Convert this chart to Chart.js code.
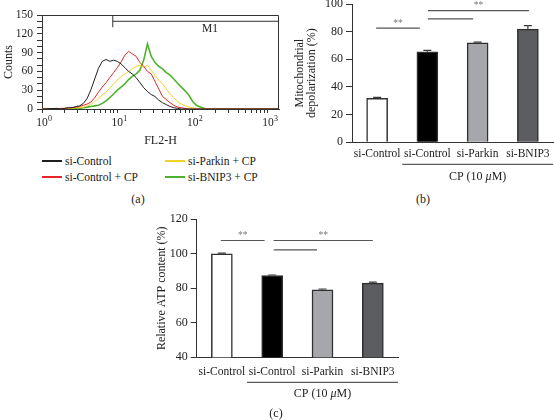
<!DOCTYPE html>
<html>
<head>
<meta charset="utf-8">
<script src="https://cdn.jsdelivr.net/npm/chart.js@4.4.0/dist/chart.umd.min.js"></script>
<style>
  html, body { margin: 0; padding: 0; background: #fff; }
  body { width: 554px; height: 420px; position: relative; overflow: hidden; font-family: "Liberation Serif", serif; color: #222; }
  .box { position: absolute; }
  .tag { position: absolute; font-size: 12px; transform: translate(-50%, -50%); white-space: nowrap; }
  .legend-item { position: absolute; font-size: 11.5px; white-space: nowrap; transform: translateY(-50%); display: flex; align-items: center; }
  .swatch { display: inline-block; width: 20px; height: 2px; margin-right: 3px; }
</style>
</head>
<body>
<div class="box" style="left:0;top:0;width:290px;height:150px"><canvas id="histChart"></canvas></div>
<div class="box" style="left:290px;top:0;width:264px;height:190px"><canvas id="depolChart"></canvas></div>
<div class="box" style="left:140px;top:210px;width:270px;height:200px"><canvas id="atpChart"></canvas></div>
<div id="histLegend"></div>
<div class="tag" style="left:138px;top:199px">(a)</div>
<div class="tag" style="left:423px;top:199px">(b)</div>
<div class="tag" style="left:276px;top:413px">(c)</div>

<script>
// ---- panel (a): FL2-H histogram ----
const flChannels = [1, 1.58, 1.78, 2.0, 2.24, 2.51, 2.82, 3.16, 3.55, 3.98, 4.47,
  5.01, 5.62, 6.31, 7.08, 7.94, 8.91, 10, 11.2, 12.6, 14.1,
  15.8, 17.8, 20, 22.4, 25.1, 28.2, 31.6, 35.5, 39.8, 44.7,
  50.1, 56.2, 63.1, 70.8, 79.4, 89.1, 100, 112, 126, 141,
  158, 178, 200, 1400];
const countsControl = [0, 1, 0, 1, 2, 2, 4, 5, 9, 17, 31,
  48, 65, 76, 79, 76, 78, 76, 72, 66, 60,
  56, 50, 42, 34, 28, 23, 20, 14, 10, 7,
  4, 2, 1, 0, 0, 0, 0, 0, 0, 0,
  0, 0, 0, 0];
const countsControlCP = [0, 0, 1, 1, 2, 2, 3, 4, 6, 8, 11,
  18, 27, 35, 42, 50, 58, 66, 75, 86, 92,
  88, 84, 74, 68, 60, 56, 44, 32, 20, 15,
  10, 6, 3, 2, 1, 0, 0, 0, 0, 0,
  0, 0, 0, 0];
const countsParkinCP = [0, 0, 0, 1, 1, 1, 2, 2, 3, 5, 7,
  12, 17, 22, 27, 33, 40, 46, 52, 56, 60,
  64, 68, 70, 66, 70, 62, 54, 46, 40, 32,
  24, 18, 12, 8, 5, 3, 2, 1, 0, 0,
  0, 0, 0, 0];
const countsBnip3CP = [0, 0, 0, 0, 0, 1, 1, 1, 2, 3, 4,
  5, 6, 9, 13, 18, 24, 30, 35, 40, 47,
  52, 56, 62, 78, 104, 84, 74, 68, 64, 58,
  54, 48, 41, 35, 29, 22, 12, 6, 3, 1,
  0, 0, 0, 0];
const seriesNames = ['si-Control', 'si-Control + CP', 'si-Parkin + CP', 'si-BNIP3 + CP'];
const seriesColors = ['#1e1e1e', '#e8262a', '#f2d22a', '#4fb22c'];
const countLabels = [0, 30, 60, 90, 120, 150];
const flTicks = [1, 2, 3, 4, 5, 6, 7, 8, 9, 10, 20, 30, 40, 50, 60, 70, 80, 90,
  100, 200, 300, 400, 500, 600, 700, 800, 900, 1000];
const flDecades = [1, 10, 100, 1000];
const m1Gate = [8.7, 1400];
const m1Level = 140;
const m1Label = [170, 128];

// ---- panels (b) and (c) ----
const groupNames = ['si-Control', 'si-Control', 'si-Parkin', 'si-BNIP3'];
const depolValues = [31.8, 65.5, 72, 81.8];
const depolErrors = [0.7, 1, 0.5, 2.5];
const atpValues = [100, 87.4, 79.1, 83];
const atpErrors = [0.4, 0.3, 0.5, 0.6];
const barFills = ['#ffffff', '#000000', '#a5a7aa', '#5c5d61'];
// [from index, to index, level, text]
const depolSig = [[-0.02, 0.85, 82.6, '**'], [1.01, 3.02, 95.2, '**'], [1.01, 1.91, 89.2, '']];
const atpSig = [[-0.02, 0.85, 107.7, '**'], [1.03, 3.0, 107.7, '**'], [1.03, 1.89, 102.3, '']];

const FONT = '"Liberation Serif", "Times New Roman", serif';
const INK = '#222';
const AXIS = '#333';

/**
 * Frame, M1 gate and 10^n labels of the histogram
 */
const histDecor = {
    id: 'histDecor',
    afterDraw(chart) {
        const {ctx, chartArea: a, scales: {x, y}} = chart;
        ctx.save();
        ctx.strokeStyle = AXIS;
        ctx.lineWidth = 1;
        ctx.beginPath();
        ctx.moveTo(a.left, a.top + 0.5);
        ctx.lineTo(a.right - 0.5, a.top + 0.5);
        ctx.lineTo(a.right - 0.5, a.bottom);
        ctx.stroke();

        const gx0 = x.getPixelForValue(m1Gate[0]);
        const gx1 = x.getPixelForValue(m1Gate[1]);
        const gy = y.getPixelForValue(m1Level);
        ctx.beginPath();
        ctx.moveTo(gx0, a.top);
        ctx.lineTo(gx0, gy + 6);
        ctx.moveTo(gx0, gy);
        ctx.lineTo(gx1, gy);
        ctx.stroke();

        ctx.fillStyle = INK;
        ctx.textBaseline = 'middle';
        ctx.textAlign = 'center';
        ctx.font = '11.5px ' + FONT;
        ctx.fillText('M1', x.getPixelForValue(m1Label[0]), y.getPixelForValue(m1Label[1]));

        flDecades.forEach(v => {
            const px = x.getPixelForValue(v);
            ctx.font = '11.5px ' + FONT;
            ctx.textAlign = 'center';
            ctx.fillText('10', px, a.bottom + 14);
            ctx.font = '8px ' + FONT;
            ctx.textAlign = 'left';
            ctx.fillText(String(Math.round(Math.log10(v))), px + 6, a.bottom + 10);
        });
        ctx.restore();
    }
};

/**
 * Error bars, significance lines and the CP group label of a bar chart
 */
const barDecor = {
    id: 'barDecor',
    afterDatasetsDraw(chart, args, opts) {
        const {ctx, chartArea: a, scales: {x, y}} = chart;
        const meta = chart.getDatasetMeta(0);
        const values = chart.data.datasets[0].data;
        ctx.save();

        // error bars
        ctx.strokeStyle = '#3a3a3a';
        ctx.lineWidth = 1.2;
        opts.errors.forEach((err, i) => {
            const px = meta.data[i].x;
            const base = y.getPixelForValue(values[i]);
            const top = y.getPixelForValue(values[i] + err);
            ctx.beginPath();
            ctx.moveTo(px, base);
            ctx.lineTo(px, top);
            ctx.moveTo(px - 4, top);
            ctx.lineTo(px + 4, top);
            ctx.stroke();
        });

        // significance lines
        ctx.strokeStyle = '#555';
        ctx.lineWidth = 1.2;
        ctx.fillStyle = '#777';
        ctx.font = '9.5px ' + FONT;
        ctx.textAlign = 'center';
        ctx.textBaseline = 'middle';
        opts.sig.forEach(([from, to, level, text]) => {
            const x0 = x.getPixelForValue(from);
            const x1 = x.getPixelForValue(to);
            const py = y.getPixelForValue(level);
            ctx.beginPath();
            ctx.moveTo(x0, py);
            ctx.lineTo(x1, py);
            ctx.stroke();
            if (text) ctx.fillText(text, (x0 + x1) / 2, py - 5);
        });

        // group line and "CP (10 μM)"
        const gx0 = x.getPixelForValue(0.5);
        const gx1 = x.getPixelForValue(3.5);
        const ly = a.bottom + opts.groupLine;
        ctx.strokeStyle = AXIS;
        ctx.lineWidth = 1;
        ctx.beginPath();
        ctx.moveTo(gx0, ly);
        ctx.lineTo(gx1, ly);
        ctx.stroke();

        const parts = [['CP (10 ', ''], ['\u03bc', 'italic '], ['M)', '']];
        ctx.fillStyle = INK;
        ctx.textAlign = 'left';
        let total = 0;
        const widths = parts.map(([t, st]) => {
            ctx.font = st + '12px ' + FONT;
            const w = ctx.measureText(t).width;
            total += w;
            return w;
        });
        let tx = x.getPixelForValue(2) - total / 2;
        const ty = a.bottom + opts.groupText;
        parts.forEach(([t, st], i) => {
            ctx.font = st + '12px ' + FONT;
            ctx.fillText(t, tx, ty);
            tx += widths[i];
        });
        ctx.restore();
    }
};

function tickFont(size) {
    return {family: FONT, size: size};
}

new Chart(document.getElementById('histChart'), {
    type: 'line',
    data: {
        datasets: [countsControl, countsControlCP, countsParkinCP, countsBnip3CP].map((counts, i) => ({
            label: seriesNames[i],
            data: flChannels.map((c, k) => ({x: c, y: counts[k]})),
            borderColor: seriesColors[i],
            borderWidth: i === 3 ? 1.6 : 1,
            pointRadius: 0,
            tension: 0
        }))
    },
    options: {
        responsive: true,
        maintainAspectRatio: false,
        animation: false,
        layout: {padding: {left: 0, top: 15, right: 11, bottom: 0}},
        plugins: {legend: {display: false}, tooltip: {enabled: false}},
        scales: {
            x: {
                type: 'logarithmic',
                min: 1,
                max: 1400,
                afterBuildTicks(axis) {
                    axis.ticks = flTicks.map(v => ({value: v}));
                },
                afterFit(s) {
                    s.height = 41;
                    s.paddingLeft = 0;
                    s.paddingRight = 0;
                },
                ticks: {display: false},
                grid: {drawOnChartArea: false, tickLength: 4, color: AXIS},
                border: {color: AXIS},
                title: {display: true, text: 'FL2-H', color: INK, font: {family: FONT, size: 12, lineHeight: '12px'}, padding: {top: 0, bottom: 3}}
            },
            y: {
                min: 0,
                max: 150,
                afterFit(s) {
                    s.width = 42;
                    s.paddingTop = 0;
                    s.paddingBottom = 0;
                },
                ticks: {
                    stepSize: 10,
                    autoSkip: false,
                    padding: 4,
                    color: INK,
                    font: tickFont(11.5),
                    callback: v => countLabels.includes(v) ? v : ''
                },
                grid: {drawOnChartArea: false, tickLength: 5, color: AXIS},
                border: {color: AXIS},
                title: {display: true, text: 'Counts', color: INK, font: {family: FONT, size: 12, lineHeight: '12px'}, padding: {top: 3, bottom: 0}}
            }
        }
    },
    plugins: [histDecor]
});

function barChart(id, values, errors, sig, cfg) {
    return new Chart(document.getElementById(id), {
        type: 'bar',
        data: {
            labels: groupNames,
            datasets: [{
                data: values,
                backgroundColor: barFills,
                borderColor: '#2f2f2f',
                borderWidth: 1.5,
                barThickness: 21
            }]
        },
        options: {
            responsive: true,
            maintainAspectRatio: false,
            animation: false,
            layout: {padding: cfg.padding},
            plugins: {
                legend: {display: false},
                tooltip: {enabled: false},
                barDecor: {errors: errors, sig: sig, groupLine: cfg.groupLine, groupText: cfg.groupText}
            },
            scales: {
                x: {
                    type: 'category',
                    offset: true,
                    afterFit(s) {
                        s.height = 20;
                        s.paddingLeft = 0;
                        s.paddingRight = 0;
                    },
                    ticks: {padding: cfg.labelPad, color: INK, font: tickFont(11.5), maxRotation: 0, autoSkip: false},
                    grid: {display: true, drawOnChartArea: false, drawTicks: false, color: AXIS},
                    border: {color: AXIS}
                },
                y: {
                    min: cfg.yMin,
                    max: cfg.yMax,
                    afterFit(s) {
                        s.width = cfg.yWidth;
                        s.paddingTop = 0;
                        s.paddingBottom = 0;
                    },
                    ticks: {stepSize: 20, padding: 3, color: INK, font: tickFont(12)},
                    grid: {drawOnChartArea: false, tickLength: 6, color: AXIS},
                    border: {color: AXIS},
                    title: {
                        display: true,
                        text: cfg.yTitle,
                        color: INK,
                        font: {family: FONT, size: 12, lineHeight: '12px'},
                        padding: {top: cfg.titlePad, bottom: 0}
                    }
                }
            }
        },
        plugins: [barDecor]
    });
}

barChart('depolChart', depolValues, depolErrors, depolSig, {
    padding: {left: 0, top: 4, right: 1, bottom: 27.7},
    yMin: 0, yMax: 100, yWidth: 62, titlePad: 4, labelPad: 5,
    yTitle: ['Mitochondrial', 'depolarization (%)'],
    groupLine: 22, groupText: 35
});

barChart('atpChart', atpValues, atpErrors, atpSig, {
    padding: {left: 0, top: 9.3, right: 12, bottom: 32.7},
    yMin: 40, yMax: 120, yWidth: 56.7, titlePad: 15.7, labelPad: 8,
    yTitle: 'Relative ATP content (%)',
    groupLine: 25, groupText: 36.7
});

// legend of panel (a), two columns
const legendSpots = [[42, 160.7], [42, 177.3], [165, 160.7], [165, 177.3]];
const legendBox = document.getElementById('histLegend');
seriesNames.forEach((name, i) => {
    const item = document.createElement('div');
    item.className = 'legend-item';
    item.style.left = legendSpots[i][0] + 'px';
    item.style.top = legendSpots[i][1] + 'px';
    item.innerHTML = '<span class="swatch" style="background-color:' + seriesColors[i] + '"></span>' + name;
    legendBox.appendChild(item);
});
</script>
</body>
</html>
